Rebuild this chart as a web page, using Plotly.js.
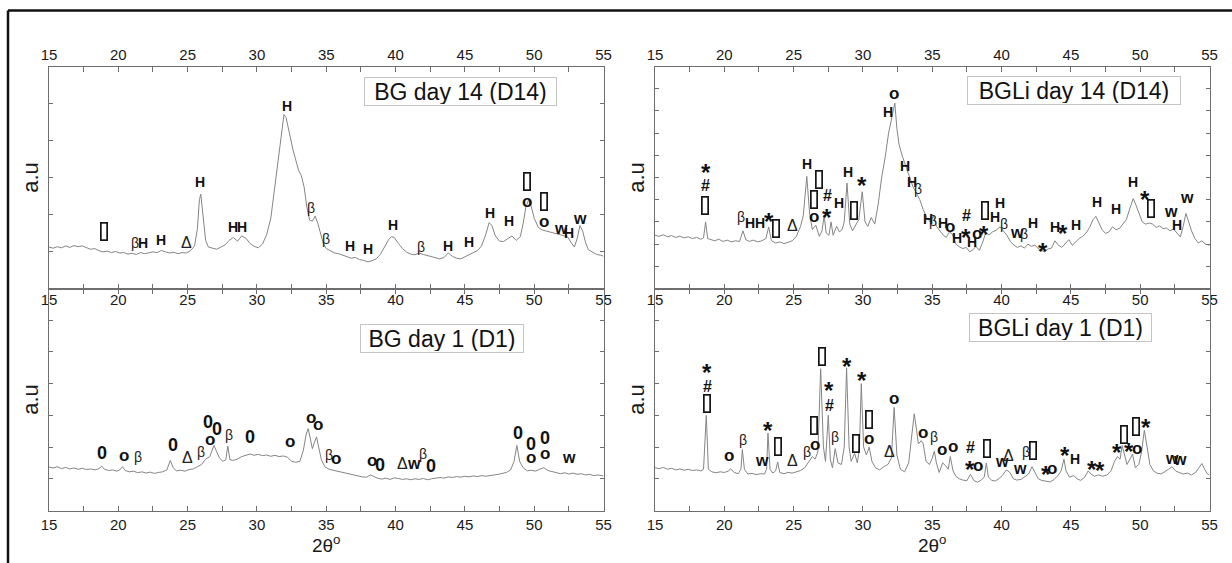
<!DOCTYPE html>
<html><head><meta charset="utf-8">
<script src="https://cdn.plot.ly/plotly-3.0.1.min.js"></script>
<style>html,body{margin:0;padding:0;background:#fff}#chart{width:1232px;height:563px}</style>
</head><body><div id="chart"></div>
<script>
// ---------------- DATA (2θ in degrees, intensity in a.u.) ----------------
// BG day 14 (top-left)
const bg14X = [15.0,15.3,15.6,15.9,16.2,16.5,16.8,17.1,17.4,17.7,18.0,18.3,18.6,18.9,19.2,19.5,19.8,20.1,20.4,20.7,21.0,21.3,21.6,21.9,22.2,22.5,22.8,23.1,23.4,23.7,24.0,24.3,24.6,24.9,25.2,25.5,25.7,25.85,25.95,26.1,26.3,26.5,26.8,27.1,27.4,27.7,28.0,28.3,28.6,28.9,29.2,29.5,29.8,30.1,30.4,30.7,31.0,31.2,31.4,31.6,31.8,31.95,32.1,32.25,32.4,32.6,32.8,33.0,33.2,33.4,33.6,33.8,34.0,34.2,34.4,34.6,34.8,35.0,35.3,35.6,35.9,36.2,36.5,36.8,37.1,37.4,37.7,38.0,38.3,38.6,38.9,39.2,39.5,39.7,39.9,40.2,40.5,40.8,41.1,41.4,41.7,42.0,42.3,42.6,42.9,43.2,43.5,43.8,44.1,44.4,44.7,45.0,45.3,45.6,45.9,46.2,46.5,46.75,46.95,47.2,47.5,47.8,48.1,48.4,48.7,49.0,49.2,49.4,49.6,49.8,50.0,50.3,50.6,50.9,51.2,51.5,51.8,52.1,52.4,52.7,52.9,53.1,53.3,53.5,53.7,53.9,54.2,54.5,54.8,55.0];
const bg14Y = [1.12,1.09,1.13,1.10,1.15,1.11,1.16,1.13,1.15,1.10,1.06,1.08,1.02,0.99,1.01,0.97,1.00,0.96,0.97,0.93,0.95,0.92,0.97,0.94,0.96,0.99,0.97,1.03,0.99,0.96,0.98,0.94,0.97,0.96,1.02,1.15,1.6,2.4,2.55,2.05,1.3,1.12,1.08,1.06,1.12,1.18,1.30,1.38,1.28,1.42,1.36,1.22,1.14,1.10,1.20,1.45,1.9,2.5,3.1,3.8,4.35,4.7,4.62,4.4,4.1,3.75,3.45,3.2,3.05,2.75,2.2,1.85,1.82,1.96,1.75,1.45,1.2,1.08,1.02,0.96,0.94,0.90,0.86,0.82,0.84,0.78,0.76,0.72,0.75,0.80,0.92,1.12,1.32,1.40,1.38,1.22,1.08,0.98,0.93,0.91,0.96,0.92,0.89,0.86,0.82,0.80,0.84,0.96,0.87,0.82,0.80,0.86,0.93,0.97,1.02,1.15,1.45,1.78,1.70,1.42,1.28,1.27,1.35,1.42,1.30,1.40,1.75,2.20,2.40,2.20,1.90,1.65,1.58,1.55,1.52,1.50,1.46,1.42,1.40,1.22,1.12,1.35,1.70,1.55,1.25,1.05,0.98,0.92,0.90,0.87];

// BGLi day 14 (top-right)
const bgli14X = [15.0,15.3,15.6,15.9,16.2,16.5,16.8,17.1,17.4,17.7,18.0,18.3,18.5,18.65,18.8,19.0,19.3,19.6,19.9,20.2,20.5,20.8,21.1,21.35,21.55,21.8,22.1,22.4,22.7,23.0,23.2,23.4,23.7,24.0,24.3,24.6,24.9,25.2,25.5,25.7,25.95,26.15,26.35,26.6,26.85,27.05,27.2,27.35,27.55,27.7,27.85,28.1,28.3,28.5,28.65,28.85,29.05,29.25,29.5,29.7,29.95,30.15,30.35,30.6,30.85,31.1,31.35,31.6,31.85,32.1,32.3,32.45,32.6,32.85,33.1,33.35,33.6,33.85,34.1,34.35,34.6,34.85,35.1,35.3,35.55,35.8,36.0,36.25,36.45,36.7,36.95,37.2,37.45,37.7,37.95,38.15,38.4,38.65,38.85,39.1,39.35,39.6,39.9,40.15,40.4,40.65,40.9,41.15,41.4,41.65,41.9,42.15,42.4,42.65,42.9,43.1,43.35,43.6,43.85,44.1,44.35,44.6,44.85,45.1,45.35,45.6,45.85,46.1,46.35,46.6,46.8,47.0,47.25,47.5,47.75,48.0,48.25,48.5,48.75,49.0,49.25,49.5,49.7,49.9,50.15,50.4,50.65,50.9,51.15,51.4,51.65,51.9,52.15,52.4,52.65,52.9,53.1,53.3,53.5,53.7,53.95,54.2,54.45,54.7,55.0];
const bgli14Y = [2.40,2.35,2.42,2.33,2.38,2.30,2.36,2.28,2.33,2.25,2.30,2.22,2.28,3.0,2.25,2.20,2.15,2.22,2.12,2.18,2.10,2.15,2.12,2.6,2.2,2.12,2.18,2.10,2.15,2.25,2.77,2.15,2.05,2.10,2.02,2.08,2.15,2.35,2.8,3.3,5.05,3.4,2.65,2.85,2.35,2.6,3.3,2.5,2.4,3.0,2.4,2.8,2.55,2.65,3.0,4.75,2.9,2.6,2.9,3.1,4.36,3.0,2.8,3.2,2.9,3.8,5.0,5.9,7.0,7.8,8.35,7.2,6.5,5.95,5.5,5.1,4.6,4.3,4.0,3.55,3.2,3.0,3.25,2.8,2.6,2.4,2.3,2.55,2.45,2.0,1.88,1.80,1.85,1.65,1.75,1.90,1.72,2.1,2.5,2.42,2.55,2.62,2.78,2.6,2.38,2.1,1.95,1.85,1.92,1.82,2.0,1.9,1.95,1.80,1.70,1.65,1.78,1.82,2.15,1.95,1.85,2.05,2.2,1.95,2.1,2.25,2.35,2.5,2.75,3.1,3.25,3.0,2.65,2.48,2.55,2.78,2.65,2.7,2.9,3.1,3.6,4.05,3.75,3.4,3.0,2.9,2.95,2.9,2.75,2.82,2.7,2.72,2.6,2.68,2.5,2.32,2.8,3.38,3.0,2.6,2.25,2.05,2.15,2.0,1.95];

// BG day 1 (bottom-left)
const bg1X = [15.0,15.3,15.6,15.9,16.2,16.5,16.8,17.1,17.4,17.7,18.0,18.3,18.6,18.8,19.0,19.3,19.6,19.9,20.1,20.3,20.5,20.8,21.1,21.4,21.7,22.0,22.3,22.6,22.9,23.2,23.5,23.75,23.95,24.2,24.5,24.8,25.1,25.4,25.7,26.0,26.3,26.6,26.9,27.1,27.3,27.55,27.75,27.9,28.05,28.3,28.6,28.9,29.2,29.5,29.8,30.1,30.4,30.7,31.0,31.3,31.6,31.9,32.2,32.5,32.8,33.1,33.35,33.55,33.7,33.85,34.0,34.15,34.3,34.45,34.65,34.9,35.2,35.5,35.8,36.1,36.4,36.7,37.0,37.3,37.6,37.9,38.2,38.4,38.7,39.0,39.3,39.6,39.9,40.2,40.5,40.8,41.1,41.4,41.7,42.0,42.3,42.6,42.9,43.2,43.5,43.8,44.1,44.4,44.7,45.0,45.3,45.6,45.9,46.2,46.5,46.8,47.1,47.4,47.7,48.0,48.3,48.55,48.75,48.95,49.2,49.5,49.8,50.1,50.4,50.7,51.0,51.3,51.6,51.9,52.2,52.5,52.8,53.1,53.4,53.7,54.0,54.3,54.6,55.0];
const bg1Y = [1.37,1.34,1.38,1.32,1.36,1.31,1.34,1.30,1.33,1.29,1.31,1.28,1.32,1.40,1.30,1.26,1.28,1.24,1.28,1.38,1.26,1.22,1.24,1.19,1.22,1.18,1.21,1.17,1.20,1.22,1.28,1.58,1.35,1.25,1.27,1.24,1.29,1.31,1.38,1.45,1.62,1.70,2.05,1.85,1.65,1.55,1.6,2.03,1.6,1.58,1.62,1.70,1.75,1.78,1.74,1.77,1.73,1.75,1.71,1.74,1.70,1.72,1.68,1.55,1.52,1.55,1.9,2.4,2.58,2.2,1.95,2.15,2.32,2.0,1.6,1.38,1.30,1.27,1.24,1.20,1.17,1.13,1.12,1.08,1.06,1.05,1.12,1.08,1.02,0.99,1.02,0.98,1.03,1.01,0.98,1.00,0.97,1.00,0.98,1.01,0.97,1.00,1.02,1.04,1.02,1.06,1.04,1.07,1.05,1.08,1.06,1.09,1.07,1.10,1.08,1.11,1.12,1.14,1.17,1.20,1.28,1.55,2.05,1.55,1.35,1.25,1.27,1.24,1.30,1.35,1.26,1.22,1.18,1.16,1.19,1.15,1.18,1.14,1.16,1.12,1.14,1.10,1.12,1.09];

// BGLi day 1 (bottom-right)
const bgli1X = [15.0,15.3,15.6,15.9,16.2,16.5,16.8,17.1,17.4,17.7,18.0,18.3,18.5,18.7,18.85,19.1,19.4,19.7,20.0,20.3,20.45,20.7,21.0,21.2,21.3,21.45,21.7,22.0,22.3,22.6,22.9,23.05,23.15,23.3,23.5,23.7,23.85,24.0,24.3,24.6,24.9,25.2,25.5,25.8,26.0,26.2,26.35,26.55,26.75,26.95,27.15,27.3,27.5,27.65,27.8,28.0,28.2,28.45,28.65,28.82,29.0,29.15,29.4,29.6,29.75,29.88,30.05,30.25,30.45,30.65,30.9,31.2,31.5,31.8,32.05,32.25,32.45,32.7,33.0,33.3,33.55,33.7,33.85,34.0,34.2,34.35,34.55,34.8,35.0,35.15,35.3,35.5,35.75,35.95,36.15,36.3,36.5,36.7,36.95,37.2,37.5,37.75,38.0,38.25,38.5,38.75,38.9,39.05,39.3,39.55,39.8,40.05,40.35,40.6,40.85,41.1,41.4,41.65,41.95,42.2,42.4,42.65,42.9,43.2,43.5,43.8,44.1,44.3,44.5,44.65,44.9,45.2,45.45,45.7,46.0,46.25,46.45,46.7,47.0,47.3,47.6,47.9,48.15,48.35,48.55,48.7,48.85,49.05,49.3,49.45,49.65,49.9,50.1,50.3,50.5,50.7,50.95,51.2,51.5,51.8,52.05,52.3,52.55,52.8,53.1,53.4,53.7,54.0,54.25,54.45,54.65,54.85,55.0];
const bgli1Y = [1.35,1.32,1.36,1.30,1.33,1.28,1.31,1.27,1.30,1.26,1.28,1.25,1.30,3.0,1.30,1.22,1.19,1.22,1.20,1.24,1.32,1.20,1.16,1.3,1.92,1.3,1.15,1.17,1.13,1.16,1.15,1.3,2.44,1.3,1.18,1.25,1.53,1.2,1.16,1.2,1.18,1.22,1.26,1.35,1.47,1.62,1.70,1.62,1.85,4.47,2.0,1.55,3.0,1.6,1.35,1.95,1.5,1.45,2.0,4.5,2.0,1.55,1.80,1.5,2.0,4.0,2.0,1.75,2.0,1.55,1.35,1.28,1.38,1.45,1.65,3.25,1.75,1.3,1.22,1.5,2.4,3.05,2.6,2.1,2.2,2.1,1.55,1.45,1.65,1.87,1.5,1.2,1.5,1.42,1.3,1.70,1.25,1.08,1.0,0.96,0.94,1.14,0.95,0.89,0.95,1.05,1.50,1.05,0.95,0.93,1.0,1.10,1.28,1.20,1.0,0.96,0.98,1.05,1.15,1.38,1.22,1.0,0.95,0.92,0.90,0.98,1.12,1.25,1.62,1.25,1.05,1.10,1.0,0.95,1.05,1.25,1.15,1.08,1.12,1.08,1.12,1.25,1.55,1.70,1.62,2.05,1.75,1.45,1.65,1.78,1.35,1.45,1.85,2.53,2.0,1.45,1.25,1.18,1.15,1.22,1.30,1.38,1.25,1.20,1.15,1.18,1.12,1.20,1.35,1.48,1.30,1.15,1.12];

// Phase markers: R = rectangle symbol
const bg14Sym = ['R','β','H','H','Δ','H','H','H','H','β','β','H','H','H','β','H','H','H','H','o','R','R','o','w','H','w'];
const bg14SymX = [19.0,21.2,21.8,23.1,24.9,25.9,28.3,28.9,32.2,33.9,35.0,36.7,38.0,39.8,41.8,43.8,45.3,46.8,48.2,49.5,49.5,50.7,50.7,51.9,52.5,53.3];
const bg14SymY = [1.53,1.22,1.24,1.31,1.24,2.87,1.67,1.67,4.94,2.17,1.33,1.15,1.08,1.71,1.13,1.15,1.26,2.05,1.83,2.35,2.89,2.35,1.8,1.62,1.51,1.9];

const bgli14Sym = ['*','#','R','β','H','H','*','R','Δ','H','R','R','o','#','*','H','H','*','R','o','H','H','H','β','H','β','H','o','H','#','*','H','o','*','R','H','H','β','w','β','H','*','H','*','H','H','H','H','*','R','w','H','w'];
const bgli14SymX = [18.7,18.64,18.64,21.2,21.85,22.6,23.2,23.75,24.9,25.94,26.8,26.5,26.45,27.44,27.44,28.3,28.9,29.9,29.35,32.27,31.8,33.04,33.55,33.98,34.7,35.06,35.8,36.3,36.8,37.47,37.47,37.87,38.2,38.7,38.8,39.9,39.5,40.2,41.1,41.65,42.27,43.0,43.86,44.43,45.34,46.9,48.24,49.46,50.37,50.8,52.2,52.67,53.38];
const bgli14SymY = [5.5,4.66,3.76,3.23,2.96,2.96,3.3,2.7,2.86,5.6,4.9,4.0,3.23,4.2,3.46,3.86,5.26,4.9,3.5,8.8,7.97,5.53,4.81,4.48,3.13,3.05,2.96,2.78,2.26,3.3,2.56,2.1,2.48,2.7,3.5,3.86,3.23,2.9,2.53,2.45,2.93,1.95,2.78,2.74,2.86,3.9,3.6,4.81,4.3,3.6,3.46,2.84,4.1];

const bg1Sym = ['0','o','β','0','Δ','β','0','0','o','β','0','o','o','o','β','o','o','0','Δ','w','β','0','0','0','0','o','o','w'];
const bg1SymX = [18.8,20.4,21.4,23.95,25.0,26.0,26.5,27.1,26.6,27.96,29.5,32.4,33.9,34.4,35.2,35.7,38.3,38.9,40.5,41.3,42.0,42.55,48.8,49.75,50.8,49.75,50.8,52.5];
const bg1SymY = [1.81,1.74,1.68,2.05,1.66,1.84,2.79,2.58,2.23,2.37,2.32,2.19,2.93,2.72,1.74,1.63,1.58,1.45,1.49,1.47,1.79,1.40,2.45,2.1,2.28,1.66,1.79,1.68];

const bgli1Sym = ['*','#','R','o','β','w','*','R','Δ','β','o','R','R','*','#','β','*','*','R','R','o','Δ','o','o','β','o','o','#','*','o','R','w','Δ','w','β','R','*','o','*','H','*','*','*','R','*','o','R','*','w','w'];
const bgli1SymX = [18.77,18.77,18.77,20.36,21.33,22.7,23.14,23.85,24.93,25.99,26.54,26.5,27.05,27.58,27.58,28.0,28.88,29.94,29.48,30.46,30.46,31.9,32.27,34.3,35.13,35.68,36.48,37.73,37.73,38.28,38.93,40.0,40.49,41.33,41.77,42.29,43.2,43.62,44.58,45.3,46.5,47.1,48.3,48.86,49.22,49.75,49.68,50.43,52.28,52.88];
const bgli1SymY = [4.53,3.9,3.36,1.72,2.22,1.57,2.7,2.02,1.57,1.86,2.09,2.67,4.85,3.96,3.3,2.33,4.72,4.29,2.12,2.88,2.28,1.86,3.54,2.46,2.31,1.91,2.02,1.98,1.49,1.41,1.96,1.54,1.75,1.33,1.86,1.89,1.33,1.33,1.91,1.62,1.49,1.44,2.02,2.4,2.04,1.96,2.64,2.8,1.65,1.6];

const panelTitles = ['BG day 14 (D14)','BGLi day 14 (D14)','BG day 1 (D1)','BGLi day 1 (D1)'];
const xTicks = [15,20,25,30,35,40,45,50,55];

// ---------------- LAYOUT ----------------
const W = 1232, H = 563;
const fx = p => p / W, fy = p => 1 - p / H;
const FONT = 'Liberation Sans, Arial, sans-serif';
const AX = '#6e6e6e';

const LX = [fx(49), fx(603.5)], RX = [fx(655), fx(1209.5)];
const TY = [fy(288.5), fy(66.5)], BY = [fy(510.5), fy(288.5)];

function xAx(dom, anchor, side, extra) {
  return Object.assign({
    domain: dom, anchor: anchor, side: side, range: [15, 55],
    tickmode: 'array', tickvals: xTicks, ticks: 'inside', ticklen: 5, tickwidth: 1, tickcolor: AX,
    minor: {tickmode: 'linear', tick0: 17.5, dtick: 5, ticks: 'inside', ticklen: 5, tickcolor: AX},
    showline: true, linecolor: AX, linewidth: 1, mirror: 'ticks',
    showgrid: false, zeroline: false, fixedrange: true,
    tickfont: {family: FONT, size: 15, color: '#1a1a1a'}
  }, extra || {});
}
function xOver(over, anchor, side) {
  return {
    overlaying: over, anchor: anchor, side: side, range: [15, 55],
    tickmode: 'array', tickvals: xTicks, ticks: '', showline: false, showgrid: false, zeroline: false,
    tickfont: {family: FONT, size: 15, color: '#1a1a1a'}
  };
}
function yAx(dom, anchor, n) {
  return {
    domain: dom, anchor: anchor, range: [0, n], dtick: 1, tick0: 0,
    ticks: 'inside', ticklen: 4, tickcolor: AX, showticklabels: false,
    showline: true, linecolor: AX, linewidth: 1, mirror: 'ticks',
    showgrid: false, zeroline: false, fixedrange: true,
    title: {text: 'a.u', font: {family: FONT, size: 22, color: '#1a1a1a'}, standoff: 3}
  };
}

const xTitle = {text: '2θ<sup>o</sup>', font: {family: FONT, size: 19, color: '#1a1a1a'}, standoff: 6};

const layout = {
  width: W, height: H, margin: {l: 0, r: 0, t: 0, b: 0},
  paper_bgcolor: '#fff', plot_bgcolor: 'rgba(0,0,0,0)', showlegend: false, hovermode: false,
  xaxis: xAx(LX, 'y', 'top'),
  yaxis: yAx(TY, 'x', 6),
  xaxis2: xAx(RX, 'y2', 'top'),
  yaxis2: yAx(TY, 'x2', 10),
  xaxis3: xAx(LX, 'y3', 'bottom', {title: xTitle}),
  yaxis3: yAx(BY, 'x3', 7),
  xaxis4: xAx(RX, 'y4', 'bottom', {title: xTitle}),
  yaxis4: yAx(BY, 'x4', 7),
  xaxis5: xOver('x', 'y', 'bottom'),
  xaxis6: xOver('x2', 'y2', 'bottom'),
  shapes: [
    {type: 'line', xref: 'paper', yref: 'paper', x0: fx(8), x1: 1, y0: fy(10.5), y1: fy(10.5), line: {color: '#111', width: 2.5}},
    {type: 'line', xref: 'paper', yref: 'paper', x0: fx(8), x1: fx(8), y0: fy(10.5), y1: 0, line: {color: '#111', width: 2.5}}
  ],
  annotations: []
};

// ---------------- TRACES ----------------
const lineStyle = {color: '#858585', width: 1};
const traces = [
  {x: bg14X, y: bg14Y, xaxis: 'x', yaxis: 'y', type: 'scatter', mode: 'lines', line: lineStyle},
  {x: bgli14X, y: bgli14Y, xaxis: 'x2', yaxis: 'y2', type: 'scatter', mode: 'lines', line: lineStyle},
  {x: bg1X, y: bg1Y, xaxis: 'x3', yaxis: 'y3', type: 'scatter', mode: 'lines', line: lineStyle},
  {x: bgli1X, y: bgli1Y, xaxis: 'x4', yaxis: 'y4', type: 'scatter', mode: 'lines', line: lineStyle},
  // same series on the overlay axes so the mid tick labels are drawn
  {x: bg14X, y: bg14Y, xaxis: 'x5', yaxis: 'y', type: 'scatter', mode: 'lines', line: {width: 0}, opacity: 0, hoverinfo: 'skip'},
  {x: bgli14X, y: bgli14Y, xaxis: 'x6', yaxis: 'y2', type: 'scatter', mode: 'lines', line: {width: 0}, opacity: 0, hoverinfo: 'skip'}
];

// ---------------- MARKER LABELS ----------------
function markAnn(sym, x, y, xr, yr) {
  const base = {x: x, y: y, xref: xr, yref: yr, showarrow: false, xanchor: 'center', yanchor: 'middle'};
  const f = (size, col) => ({family: FONT, size: size, color: col || '#111'});
  switch (sym) {
    case 'R': return Object.assign(base, {text: ' ', width: 5, height: 16, bordercolor: '#151515', borderwidth: 1.7, borderpad: 0});
    case 'H': return Object.assign(base, {text: '<b>H</b>', font: f(14)});
    case 'β': return Object.assign(base, {text: 'β', font: f(14, '#222')});
    case 'Δ': return Object.assign(base, {text: 'Δ', font: f(16, '#222')});
    case 'o': return Object.assign(base, {text: '<b>o</b>', font: f(17)});
    case '0': return Object.assign(base, {text: '<b>0</b>', font: f(18)});
    case 'w': return Object.assign(base, {text: '<b>w</b>', font: f(16)});
    case '*': return Object.assign(base, {text: '<b>*</b>', font: f(24), yshift: -6});
    case '#': return Object.assign(base, {text: '<b>#</b>', font: f(16)});
  }
  return Object.assign(base, {text: sym, font: f(14)});
}
function addMarks(syms, xs, ys, xr, yr) {
  syms.forEach((s, i) => layout.annotations.push(markAnn(s, xs[i], ys[i], xr, yr)));
}
addMarks(bg14Sym, bg14SymX, bg14SymY, 'x', 'y');
addMarks(bgli14Sym, bgli14SymX, bgli14SymY, 'x2', 'y2');
addMarks(bg1Sym, bg1SymX, bg1SymY, 'x3', 'y3');
addMarks(bgli1Sym, bgli1SymX, bgli1SymY, 'x4', 'y4');

// ---------------- PANEL TITLE BOXES ----------------
const boxPos = [
  {xr: 'x domain', yr: 'y domain', x: 0.7424, y: 0.886, w: 189},
  {xr: 'x2 domain', yr: 'y2 domain', x: 0.756, y: 0.890, w: 210},
  {xr: 'x3 domain', yr: 'y3 domain', x: 0.709, y: 0.7765, w: 160},
  {xr: 'x4 domain', yr: 'y4 domain', x: 0.7316, y: 0.826, w: 179}
];
panelTitles.forEach((t, i) => {
  const b = boxPos[i];
  layout.annotations.push({
    text: t, xref: b.xr, yref: b.yr, x: b.x, y: b.y, xanchor: 'center', yanchor: 'middle',
    showarrow: false, width: b.w, height: 25, align: 'center',
    font: {family: FONT, size: 23, color: '#111'},
    bgcolor: '#fff', bordercolor: '#c4c4c4', borderwidth: 1, borderpad: 1
  });
});

Plotly.newPlot('chart', traces, layout, {staticPlot: true, displayModeBar: false});
</script>
</body></html>
